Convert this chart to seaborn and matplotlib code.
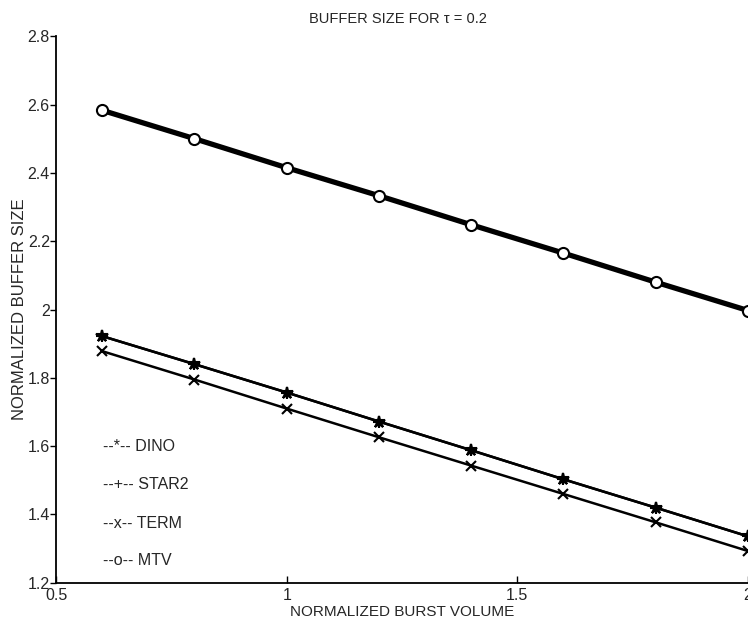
import matplotlib
matplotlib.use("Agg")
import matplotlib.pyplot as plt
import seaborn as sns
import pandas as pd

burst = [0.6, 0.8, 1.0, 1.2, 1.4, 1.6, 1.8, 2.0]
dino = [1.922, 1.840, 1.757, 1.672, 1.588, 1.503, 1.420, 1.336]
star2 = [1.922, 1.840, 1.757, 1.672, 1.588, 1.503, 1.420, 1.336]
term = [1.878, 1.795, 1.710, 1.626, 1.543, 1.460, 1.377, 1.293]
mtv = [2.583, 2.500, 2.415, 2.333, 2.248, 2.165, 2.080, 1.997]
series_names = ["DINO", "STAR2", "TERM", "MTV"]
legend_labels = ["--*-- DINO", "--+-- STAR2", "--x-- TERM", "--o-- MTV"]
xticks = [0.5, 1.0, 1.5, 2.0]
xtick_labels = ["0.5", "1", "1.5", "2"]
yticks = [1.2, 1.4, 1.6, 1.8, 2.0, 2.2, 2.4, 2.6, 2.8]
ytick_labels = ["1.2", "1.4", "1.6", "1.8", "2", "2.2", "2.4", "2.6", "2.8"]

sns.set_style("white")
plt.rcParams["font.family"] = ["Liberation Sans", "DejaVu Sans"]

frames = []
for name, vals in zip(series_names, [dino, star2, term, mtv]):
    frames.append(pd.DataFrame({"burst": burst, "size": vals, "series": name}))
df = pd.concat(frames, ignore_index=True)

fig = plt.figure(figsize=(7.48, 6.24), dpi=100)
ax = fig.add_axes([0.075, 0.066, 0.925, 0.876])

styles = {
    "DINO": dict(marker="*", lw=1.8, ms=9, mfc="black"),
    "STAR2": dict(marker="+", lw=1.8, ms=9, mfc="black"),
    "TERM": dict(marker="x", lw=1.8, ms=7, mfc="black"),
    "MTV": dict(marker="o", lw=3.8, ms=8, mfc="white"),
}
for name in series_names:
    st = styles[name]
    sns.lineplot(data=df[df["series"] == name], x="burst", y="size", ax=ax,
                 color="black", linewidth=st["lw"], marker=st["marker"],
                 markersize=st["ms"], markerfacecolor=st["mfc"],
                 markeredgecolor="black", markeredgewidth=1.5,
                 legend=False, clip_on=False, zorder=3)

ax.set_xlim(0.5, 2.0)
ax.set_ylim(1.2, 2.8)
ax.set_xticks(xticks)
ax.set_xticklabels(xtick_labels, fontsize=11.5)
ax.set_yticks(yticks)
ax.set_yticklabels(ytick_labels, fontsize=11.5)
ax.tick_params(axis="x", direction="in", length=5, width=1, pad=4, color="black", bottom=True)
ax.tick_params(axis="y", direction="out", length=4, width=1, pad=0.5, color="black", left=True)

for s in ["top", "right"]:
    ax.spines[s].set_visible(False)
for s in ["left", "bottom"]:
    ax.spines[s].set_color("black")
    ax.spines[s].set_linewidth(1.3)

ax.set_xlabel("NORMALIZED BURST VOLUME", fontsize=11, labelpad=1)
ax.set_ylabel("NORMALIZED BUFFER SIZE", fontsize=12, labelpad=0)
fig.text(0.532, 0.970, "BUFFER SIZE FOR τ = 0.2", fontsize=10.5, ha="center", va="center",
         family=["Liberation Sans", "DejaVu Sans"])

leg_y = [1.598, 1.487, 1.375, 1.264]
for lab, yy in zip(legend_labels, leg_y):
    ax.text(0.602, yy, lab, fontsize=11.5, ha="left", va="center")

fig.savefig("out.png", dpi=100)
